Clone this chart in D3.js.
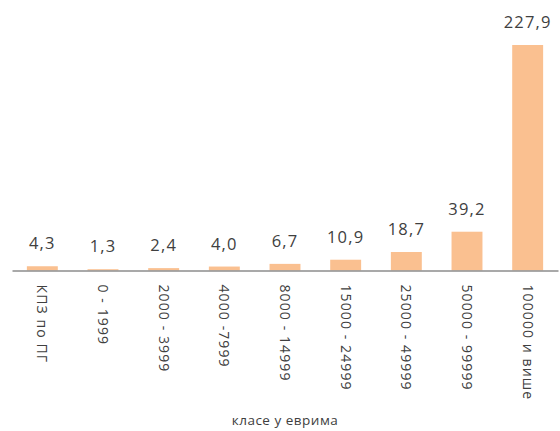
<!DOCTYPE html>
<html>
<head>
<meta charset="utf-8">
<script src="https://cdn.jsdelivr.net/npm/d3@7/dist/d3.min.js"></script>
<style>
  body { margin: 0; background: #fff; }
  text { font-family: "Open Sans", sans-serif; fill: #404040; }
</style>
</head>
<body>
<div id="chart"></div>
<script>
var categories = ["КПЗ по ПГ", "0 - 1999", "2000 - 3999", "4000 -7999", "8000 - 14999",
                  "15000 - 24999", "25000 - 49999", "50000 - 99999", "100000 и више"];
var values = [4.3, 1.3, 2.4, 4.0, 6.7, 10.9, 18.7, 39.2, 227.9];
var axisTitle = "класе у еврима";

var w = 560, h = 431;

var svg = d3.select("#chart")
  .append("svg")
  .attr("width", w)
  .attr("height", h);

var x = d3.scaleBand()
  .domain(categories)
  .range([12, 558])
  .paddingInner(0.49)
  .paddingOuter(0.245);

var y = d3.scaleLinear()
  .domain([0, 227.9])
  .range([270.5, 45]);

// bars
svg.selectAll("rect.bar")
  .data(values)
  .enter()
  .append("rect")
  .attr("class", "bar")
  .attr("x", function(d, i) { return x(categories[i]); })
  .attr("y", function(d) { return y(d); })
  .attr("width", x.bandwidth())
  .attr("height", function(d) { return y(0) - y(d); })
  .attr("fill", "#FAC090");

// value labels
svg.selectAll("text.val")
  .data(values)
  .enter()
  .append("text")
  .attr("class", "val")
  .attr("x", function(d, i) { return x(categories[i]) + x.bandwidth() / 2; })
  .attr("y", function(d) { return y(d) - 17; })
  .attr("text-anchor", "middle")
  .style("font-size", "16.5px")
  .style("letter-spacing", "1.2px")
  .text(function(d) { return d.toFixed(1).replace(".", ","); });

// x axis
var xAxis = d3.axisBottom(x).tickSize(0).tickPadding(0);
var gx = svg.append("g")
  .attr("transform", "translate(0," + y(0) + ")")
  .call(xAxis);
gx.select(".domain").attr("stroke", "#8c8c8c").attr("stroke-width", 1.5);
gx.selectAll(".tick text")
  .attr("transform", "translate(0,14) rotate(90)")
  .attr("x", 0)
  .attr("y", 0)
  .attr("dy", "0.35em")
  .attr("text-anchor", "start")
  .style("font-size", "14px")
  .style("letter-spacing", "1.1px")
  .attr("font-family", null);

// axis title
svg.append("text")
  .attr("x", (12 + 558) / 2)
  .attr("y", 425)
  .attr("text-anchor", "middle")
  .style("font-size", "13.5px")
  .style("letter-spacing", "0.5px")
  .text(axisTitle);
</script>
</body>
</html>
